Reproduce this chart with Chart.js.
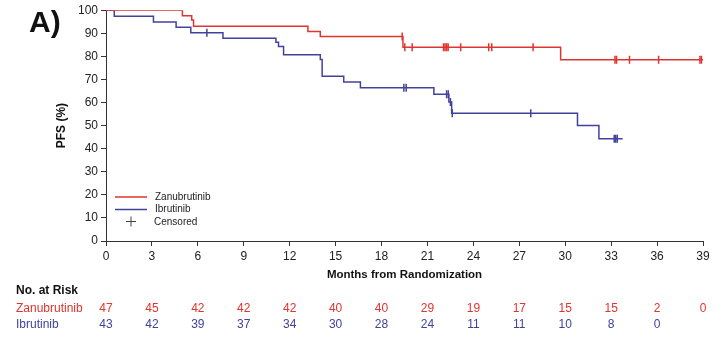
<!DOCTYPE html>
<html>
<head>
<meta charset="utf-8">
<script src="https://cdn.jsdelivr.net/npm/chart.js@4.4.1/dist/chart.umd.min.js"></script>
<style>
    html, body { margin: 0; padding: 0; background: #fff; }
    #wrap { width: 722px; height: 348px; }
</style>
</head>
<body>
<div id="wrap"><canvas id="km-chart" width="722" height="348"></canvas></div>
<script>
// Kaplan-Meier steps (months, PFS %)
const zanuTimes = [0, 4.99, 5.6, 5.72, 13.19, 14.0, 19.4, 29.7, 39.1];
const zanuSurv = [100, 97.6, 95.7, 93.1, 90.8, 88.6, 84.0, 78.5, 78.5];
const ibruTimes = [0, 0.54, 3.1, 4.58, 5.54, 7.64, 11.1, 11.27, 11.6, 14.0, 14.12, 15.53, 16.62, 21.42, 22.4, 22.58, 30.8, 32.2, 33.75];
const ibruSurv = [100, 97.4, 94.9, 92.6, 90.2, 87.9, 86.1, 84.3, 80.7, 78.6, 71.4, 68.9, 66.4, 63.6, 60.2, 55.4, 50.0, 44.3, 44.3];

// Censored observations
const zanuCensorTimes = [19.35, 19.52, 20.0, 22.05, 22.15, 22.25, 22.35, 23.17, 25.0, 25.2, 27.9, 33.25, 33.35, 34.2, 36.1, 38.8, 38.9];
const zanuCensorSurv = [88.6, 84.0, 84.0, 84.0, 84.0, 84.0, 84.0, 84.0, 84.0, 84.0, 84.0, 78.5, 78.5, 78.5, 78.5, 78.5, 78.5];
const ibruCensorTimes = [6.59, 19.46, 19.61, 22.25, 22.36, 22.5, 22.62, 27.75, 33.2, 33.3, 33.4];
const ibruCensorSurv = [90.2, 66.4, 66.4, 63.6, 63.6, 60.2, 55.4, 55.4, 44.3, 44.3, 44.3];

// Number at risk table
const riskTimes = [0, 3, 6, 9, 12, 15, 18, 21, 24, 27, 30, 33, 36, 39];
const zanuAtRisk = [47, 45, 42, 42, 42, 40, 40, 29, 19, 17, 15, 15, 2, 0];
const ibruAtRisk = [43, 42, 39, 37, 34, 30, 28, 24, 11, 11, 10, 8, 0];

const RED = '#e0342f';
const BLUE = '#42429c';
const FONT = "'Liberation Sans', Arial, sans-serif";

const toPoints = (xs, ys) => xs.map((x, i) => ({x: x, y: ys[i]}));

// Draws the "A)" label, the inset legend and the at-risk table
const annotationsPlugin = {
    id: 'kmAnnotations',
    afterDraw: function (chart) {
        const ctx = chart.ctx;
        const area = chart.chartArea;
        const xScale = chart.scales.x;
        ctx.save();

        ctx.fillStyle = '#111';
        ctx.font = 'bold 30px ' + FONT;
        ctx.textBaseline = 'alphabetic';
        ctx.textAlign = 'left';
        ctx.fillText('A)', 29, 32);

        // legend
        const lx = area.left + 9;
        ctx.lineWidth = 1.5;
        ctx.strokeStyle = RED;
        ctx.beginPath(); ctx.moveTo(lx, 197); ctx.lineTo(lx + 32, 197); ctx.stroke();
        ctx.strokeStyle = BLUE;
        ctx.beginPath(); ctx.moveTo(lx, 209.5); ctx.lineTo(lx + 32, 209.5); ctx.stroke();
        ctx.strokeStyle = '#444';
        ctx.lineWidth = 1;
        ctx.beginPath();
        ctx.moveTo(lx + 11, 221.5); ctx.lineTo(lx + 21, 221.5);
        ctx.moveTo(lx + 16, 216.5); ctx.lineTo(lx + 16, 226.5);
        ctx.stroke();
        ctx.fillStyle = '#222';
        ctx.font = '10px ' + FONT;
        ctx.textBaseline = 'middle';
        ctx.fillText('Zanubrutinib', lx + 40, 197);
        ctx.fillText('Ibrutinib', lx + 40, 209.5);
        ctx.fillText('Censored', lx + 39, 222);

        // number at risk
        ctx.fillStyle = '#111';
        ctx.font = 'bold 12px ' + FONT;
        ctx.fillText('No. at Risk', 16, 291);
        ctx.font = '12px ' + FONT;
        ctx.fillStyle = RED;
        ctx.fillText('Zanubrutinib', 16, 309);
        ctx.fillStyle = BLUE;
        ctx.fillText('Ibrutinib', 16, 325);
        ctx.textAlign = 'center';
        riskTimes.forEach((t, i) => {
            const px = xScale.getPixelForValue(t);
            ctx.fillStyle = RED;
            ctx.fillText(String(zanuAtRisk[i]), px, 309);
            if (i < ibruAtRisk.length) {
                ctx.fillStyle = BLUE;
                ctx.fillText(String(ibruAtRisk[i]), px, 325);
            }
        });
        ctx.restore();
    }
};

new Chart(document.getElementById('km-chart'), {
    type: 'line',
    data: {
        datasets: [
            {
                label: 'Zanubrutinib',
                data: toPoints(zanuTimes, zanuSurv),
                borderColor: RED,
                borderWidth: 1.5,
                stepped: 'before',
                pointRadius: 0,
                fill: false
            },
            {
                label: 'Ibrutinib',
                data: toPoints(ibruTimes, ibruSurv),
                borderColor: BLUE,
                borderWidth: 1.5,
                stepped: 'before',
                pointRadius: 0,
                fill: false
            },
            {
                label: 'Zanubrutinib censored',
                data: toPoints(zanuCensorTimes, zanuCensorSurv),
                showLine: false,
                borderColor: RED,
                backgroundColor: RED,
                pointStyle: 'line',
                rotation: 90,
                pointRadius: 4,
                pointBorderWidth: 1.5
            },
            {
                label: 'Ibrutinib censored',
                data: toPoints(ibruCensorTimes, ibruCensorSurv),
                showLine: false,
                borderColor: BLUE,
                backgroundColor: BLUE,
                pointStyle: 'line',
                rotation: 90,
                pointRadius: 4,
                pointBorderWidth: 1.5
            }
        ]
    },
    options: {
        responsive: false,
        animation: false,
        layout: {padding: {left: 50, top: 6, right: 19, bottom: 62}},
        plugins: {
            legend: {display: false},
            tooltip: {enabled: false}
        },
        scales: {
            x: {
                type: 'linear',
                min: 0,
                max: 39,
                afterFit: scale => { scale.height = 45; },
                ticks: {stepSize: 3, color: '#222', padding: 3, font: {family: FONT, size: 12}},
                grid: {drawOnChartArea: false, drawTicks: true, tickLength: 5, color: '#333'},
                border: {display: true, color: '#333', width: 1},
                title: {display: true, text: 'Months from Randomization', color: '#111', font: {family: FONT, size: 11.5, weight: 'bold'}}
            },
            y: {
                min: 0,
                max: 100,
                afterFit: scale => { scale.width = 56; },
                ticks: {stepSize: 10, color: '#222', padding: 3, font: {family: FONT, size: 12}},
                grid: {drawOnChartArea: false, drawTicks: true, tickLength: 5, color: '#333'},
                border: {display: true, color: '#333', width: 1},
                title: {display: true, text: 'PFS (%)', color: '#111', font: {family: FONT, size: 12, weight: 'bold'}}
            }
        }
    },
    plugins: [annotationsPlugin]
});
</script>
</body>
</html>
